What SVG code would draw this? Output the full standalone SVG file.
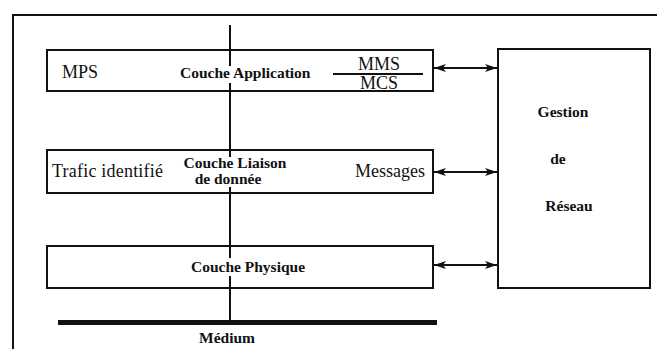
<svg xmlns="http://www.w3.org/2000/svg" width="657" height="349" viewBox="0 0 657 349">
<style>
.box{fill:none;stroke:#111;stroke-width:2}
.ln{stroke:#111;stroke-width:2;fill:none}
.r{font-family:"Liberation Serif",serif;font-size:18px;fill:#111}
.b{font-family:"Liberation Serif",serif;font-size:15.5px;font-weight:bold;fill:#111}
</style>
<defs>
<marker id="ah" viewBox="0 0 12 8" refX="12" refY="4" markerWidth="12" markerHeight="8" markerUnits="userSpaceOnUse" orient="auto-start-reverse">
<path d="M0,0 L12,4 L0,8 L3,4 Z" fill="#111"/>
</marker>
</defs>
<rect width="657" height="349" fill="#fff"/>
<g id="frame">
<path class="ln" d="M13,349 V15 H657"/>
</g>
<g id="connectors">
<path class="ln" d="M230,25 V66 M230,83 V157 M230,187 V258 M230,276 V322"/>
<line class="ln" x1="434" y1="68" x2="497" y2="68" marker-start="url(#ah)" marker-end="url(#ah)"/>
<line class="ln" x1="434" y1="172" x2="497" y2="172" marker-start="url(#ah)" marker-end="url(#ah)"/>
<line class="ln" x1="434" y1="265" x2="497" y2="265" marker-start="url(#ah)" marker-end="url(#ah)"/>
</g>
<g id="app">
<rect class="box" x="47" y="50" width="386" height="41"/>
<text class="r" x="62" y="78" font-size="17">MPS</text>
<text class="b" x="180" y="78">Couche Application</text>
<text class="r" x="379" y="70" font-size="15" text-anchor="middle">MMS</text>
<line class="ln" x1="333" y1="74" x2="423" y2="74"/>
<text class="r" x="379" y="89" font-size="15" text-anchor="middle">MCS</text>
</g>
<g id="liaison">
<rect class="box" x="47" y="150" width="386" height="43"/>
<text class="r" x="52" y="177" textLength="111">Trafic identifié</text>
<text class="b" x="235" y="168" text-anchor="middle">Couche Liaison</text>
<text class="b" x="228" y="184" text-anchor="middle">de donnée</text>
<text class="r" x="425" y="177" text-anchor="end">Messages</text>
</g>
<g id="physique">
<rect class="box" x="47" y="246" width="386" height="42"/>
<text class="b" x="248" y="272" text-anchor="middle">Couche Physique</text>
</g>
<g id="gestion">
<rect class="box" x="498" y="49" width="152" height="239"/>
<text class="b" x="563" y="117" text-anchor="middle">Gestion</text>
<text class="b" x="558" y="164" text-anchor="middle">de</text>
<text class="b" x="569" y="211" text-anchor="middle">Réseau</text>
</g>
<g id="medium">
<line x1="58" y1="322.5" x2="437" y2="322.5" stroke="#111" stroke-width="5"/>
<text class="b" x="227" y="343" text-anchor="middle">Médium</text>
</g>
</svg>
